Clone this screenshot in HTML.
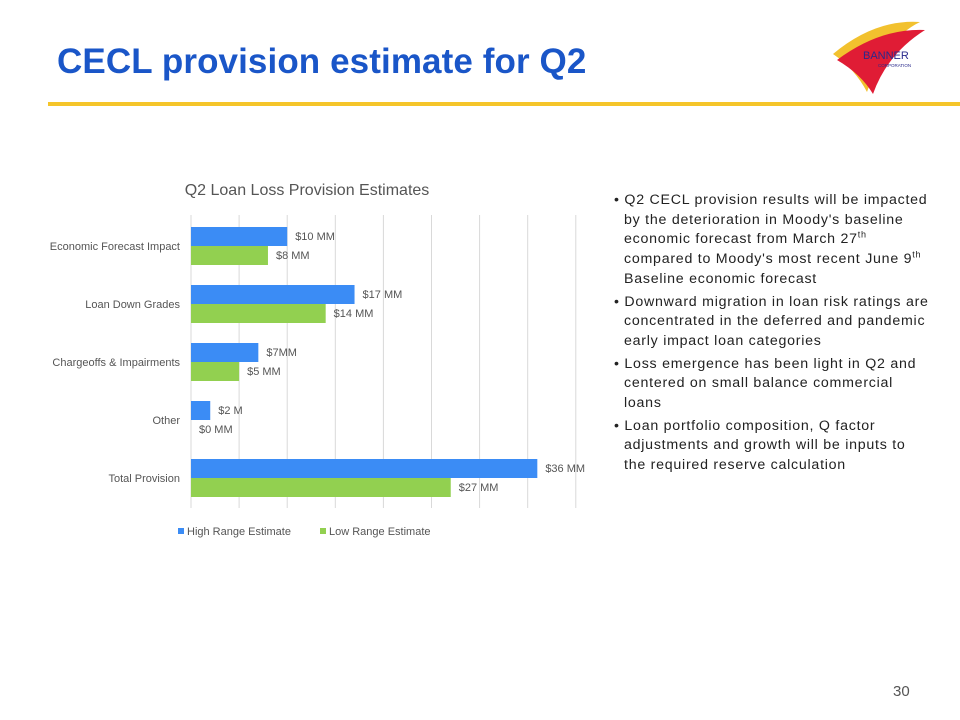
<!DOCTYPE html>
<html><head><meta charset="utf-8"><style>
body{margin:0;width:960px;height:720px;background:#fff;position:relative;overflow:hidden;font-family:"Liberation Sans",sans-serif}
.t{position:absolute}
.b{padding-left:10px;text-indent:-10px;margin-bottom:3px;white-space:nowrap}
</style></head><body>
<div class="t" style="left:57px;top:42px;font-size:35px;font-weight:bold;color:#1a56c8;letter-spacing:0.1px">CECL provision estimate for Q2</div>
<div class="t" style="left:48px;top:102px;width:912px;height:4px;background:#f5c52a"></div>
<svg class="t" style="left:825px;top:14px" width="110" height="82">
<path d="M8,40 Q50,5 95,8 Q60,25 42,78 Q30,55 8,40Z" fill="#f2c12e"/>
<path d="M12,46 Q55,14 100,16 Q62,40 48,80 Q36,60 12,46Z" fill="#e01c35"/>
<text x="38" y="45" font-size="11" fill="#2a2a8c" font-family="Liberation Sans">BANNER</text>
<text x="53" y="53" font-size="4.5" fill="#2a2a8c" font-family="Liberation Sans">CORPORATION</text>
</svg>
<svg class="t" id="chart" style="left:0;top:0" width="600" height="560"></svg>
<div class="t" style="left:614px;top:191px;width:340px;font-size:14.2px;line-height:19.7px;color:#222;letter-spacing:0.75px">
<div class="b">• Q2 CECL provision results will be impacted<br>by the deterioration in Moody's baseline<br>economic forecast from March 27<sup style="font-size:9px;line-height:0">th</sup><br>compared to Moody's most recent June 9<sup style="font-size:9px;line-height:0">th</sup><br>Baseline economic forecast</div>
<div class="b">• Downward migration in loan risk ratings are<br>concentrated in the deferred and pandemic<br>early impact loan categories</div>
<div class="b">• Loss emergence has been light in Q2 and<br>centered on small balance commercial<br>loans</div>
<div class="b">• Loan portfolio composition, Q factor<br>adjustments and growth will be inputs to<br>the required reserve calculation</div>
</div>
<div class="t" style="left:893px;top:683px;font-size:15px;color:#555">30</div>
<script>
const categories=["Economic Forecast Impact","Loan Down Grades","Chargeoffs & Impairments","Other","Total Provision"];
const highValues=[10,17,7,2,36];
const lowValues=[8,14,5,0,27];
const highLabels=["$10 MM","$17 MM","$7MM","$2 M","$36 MM"];
const lowLabels=["$8 MM","$14 MM","$5 MM","$0 MM","$27 MM"];
const gridTicks=[0,5,10,15,20,25,30,35,40];
const svg=document.getElementById('chart');
const NS='http://www.w3.org/2000/svg';
const x0=191,scale=9.62,top0=227,step=58,bh=19;
const xs=v=>x0+v*scale;
function mk(tag,attrs,txt){const e=document.createElementNS(NS,tag);for(const k in attrs)e.setAttribute(k,attrs[k]);if(txt!==undefined)e.textContent=txt;svg.appendChild(e);return e;}
const ct=mk('text',{x:307,y:195,'text-anchor':'middle','font-size':16,fill:'#555'},'Q2 Loan Loss Provision Estimates');


gridTicks.forEach(t=>{const l=mk('line',{x1:xs(t),x2:xs(t),y1:215,y2:508,stroke:'#d9d9d9','stroke-width':1});

});
categories.forEach((c,i)=>{const y=top0+i*step;
const lab=mk('text',{x:180,y:y+bh+4,'text-anchor':'end','font-size':11,fill:'#555'},c);


const b1=mk('rect',{x:x0,y:y,width:highValues[i]*scale,height:bh,fill:'#3b8cf5'});


const b2=mk('rect',{x:x0,y:y+bh,width:lowValues[i]*scale,height:bh,fill:'#92d050'});


const t1=mk('text',{x:xs(highValues[i])+8,y:y+13,'font-size':11,fill:'#555'},highLabels[i]);


const t2=mk('text',{x:xs(lowValues[i])+8,y:y+bh+13,'font-size':11,fill:'#555'},lowLabels[i]);


});
const l1=mk('rect',{x:178,y:528,width:6,height:6,fill:'#3b8cf5'});


const lt1=mk('text',{x:187,y:535,'font-size':11,fill:'#555'},'High Range Estimate');


const l2=mk('rect',{x:320,y:528,width:6,height:6,fill:'#92d050'});


const lt2=mk('text',{x:329,y:535,'font-size':11,fill:'#555'},'Low Range Estimate');


</script>
</body></html>
